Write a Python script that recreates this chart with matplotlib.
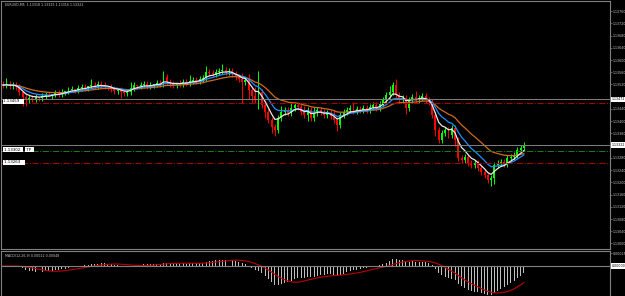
# EURUSD M5 style chart, candles + 3 MAs + MACD pane
import numpy as np
import pandas as pd
import matplotlib
matplotlib.use("Agg")
import matplotlib.pyplot as plt

# closes
closes = [
    1.13518, 1.13521, 1.13515, 1.13518, 1.13512,
    1.13495, 1.13479, 1.13469, 1.13476,
    1.13472, 1.13479, 1.13476, 1.13482, 1.13485, 1.13482,
    1.13489, 1.13492, 1.13489, 1.13495, 1.13498, 1.13502,
    1.13505, 1.13502, 1.13508, 1.13512, 1.13508, 1.13515, 1.13518, 1.13515, 1.13521, 1.13518,
    1.13515, 1.13512, 1.13505, 1.13498, 1.13502, 1.13495, 1.13492,
    1.13495, 1.13508, 1.13518,
    1.13515, 1.13518, 1.13521, 1.13515, 1.13518, 1.13521, 1.13525, 1.13521,
    1.13544, 1.13528,
    1.13521, 1.13518, 1.13525, 1.13521, 1.13528, 1.13525,
    1.13531, 1.13534, 1.13531, 1.13538,
    1.13541, 1.13561, 1.13557,
    1.13554, 1.13561, 1.13564, 1.13567, 1.13561,
    1.13564, 1.13554, 1.13544,
    1.13538, 1.13528, 1.13534, 1.13502,
    1.13482, 1.13469, 1.13495,
    1.13453, 1.13430, 1.13404, 1.13381, 1.13371,
    1.13410, 1.13430, 1.13436,
    1.13426, 1.13443, 1.13453, 1.13446,
    1.13430, 1.13420, 1.13436, 1.13410, 1.13426, 1.13436, 1.13430,
    1.13420, 1.13426, 1.13417, 1.13404, 1.13387, 1.13420,
    1.13430, 1.13436, 1.13443, 1.13433, 1.13440, 1.13436,
    1.13443, 1.13436, 1.13446, 1.13453, 1.13443, 1.13456,
    1.13469, 1.13485, 1.13495, 1.13518,
    1.13485, 1.13469, 1.13476, 1.13443, 1.13469,
    1.13479, 1.13469, 1.13476, 1.13482, 1.13469, 1.13462,
    1.13420, 1.13371, 1.13338, 1.13361,
    1.13371, 1.13355, 1.13377, 1.13338,
    1.13279, 1.13273, 1.13283, 1.13263, 1.13256,
    1.13263, 1.13247, 1.13234,
    1.13224, 1.13207, 1.13214,
    1.13256,
    1.13263, 1.13266, 1.13260,
    1.13279, 1.13283, 1.13289,
    1.13306, 1.13312, 1.13322,
]
first_open = 1.13521

# wick lengths in pips above / below the body
upper_wick = [
    1, 2, 1, 1, 1, 1, 0, 1, 1, 1,
    1, 0, 1, 1, 1, 0, 1, 1, 1, 0,
    1, 1, 0, 1, 1, 1, 0, 2, 1, 1,
    1, 1, 0, 1, 1, 0, 1, 1, 1, 2,
    1, 0, 1, 1, 1, 1, 0, 1, 1, 2,
    1, 1, 1, 0, 1, 1, 1, 2, 1, 1,
    1, 1, 2, 1, 1, 1, 1, 2, 1, 1,
    1, 1, 1, 2, 1, 2, 1, 3, 7, 1,
    1, 1, 1, 1, 1, 2, 1, 1, 2, 1,
    1, 1, 2, 1, 1, 2, 1, 1, 1, 1,
    1, 2, 1, 1, 1, 1, 1, 2, 1, 1,
    1, 1, 1, 1, 1, 1, 1, 1, 2, 1,
    2, 1, 1, 1, 1, 1, 2, 1, 1, 1,
    1, 1, 1, 1, 1, 1, 1, 1, 1, 1,
    1, 1, 1, 1, 1, 1, 1, 1, 1, 1,
    1, 1, 1, 1, 1, 1, 1, 1, 1, 1,
]
lower_wick = [
    1, 1, 1, 1, 1, 1, 3, 2, 1, 1,
    1, 1, 1, 1, 0, 1, 1, 1, 1, 1,
    1, 0, 1, 1, 1, 1, 1, 1, 1, 1,
    1, 1, 1, 1, 1, 1, 2, 1, 1, 1,
    1, 1, 1, 1, 1, 1, 1, 1, 1, 1,
    1, 1, 1, 1, 1, 1, 1, 1, 1, 1,
    1, 1, 1, 1, 1, 1, 1, 1, 1, 1,
    1, 1, 1, 7, 1, 3, 2, 1, 3, 1,
    2, 1, 2, 2, 1, 1, 1, 1, 1, 1,
    1, 1, 1, 2, 1, 1, 1, 1, 1, 1,
    1, 1, 2, 1, 1, 1, 1, 1, 1, 1,
    1, 1, 1, 1, 1, 1, 1, 1, 1, 1,
    1, 1, 1, 2, 1, 1, 1, 1, 1, 1,
    1, 1, 2, 1, 1, 1, 1, 1, 2, 1,
    1, 1, 1, 1, 1, 1, 1, 1, 1, 2,
    2, 1, 1, 1, 1, 1, 1, 1, 1, 1,
]

# horizontal levels (price, colour, style)
levels = [
    (1.13472, "#808080", "-"),
    (1.13459, "#b00000", "-."),
    (1.13322, "#808080", "-"),
    (1.13302, "#1f7a1f", "-."),
    (1.13263, "#b00000", "-."),
]
boxed_prices = [1.13472, 1.13322]
header = "EURUSD,M5  1.13318 1.13325 1.13316 1.13322"
macd_title = "MACD(12,26,9) 0.00022 0.00048"

c = np.array(closes)
o = np.concatenate([[first_open], c[:-1]])
pip = 0.0001
hi = np.maximum(o, c) + np.array(upper_wick) * pip
lo = np.minimum(o, c) - np.array(lower_wick) * pip
n = len(c)
x = np.arange(n)

s = pd.Series(c)
ma_fast = s.ewm(span=5, adjust=False).mean()
ma_mid = s.ewm(span=10, adjust=False).mean()
ma_slow = s.ewm(span=21, adjust=False).mean()
macd = s.ewm(span=12, adjust=False).mean() - s.ewm(span=26, adjust=False).mean()
signal = macd.rolling(9, min_periods=1).mean()

W, H = 625, 296
def rect(x0, y0, x1, y1):
    return [x0 / W, 1 - y1 / H, (x1 - x0) / W, (y1 - y0) / H]

fig = plt.figure(figsize=(6.25, 2.96), dpi=100, facecolor="black")
ax = fig.add_axes(rect(1, 1, 610, 249))
mx = fig.add_axes(rect(1, 251, 610, 296))
grey = "#808080"
txt = "#c8c8c8"
fs = 2.3

for a in (ax, mx):
    a.set_facecolor("black")
    a.set_xlim(-0.6, 185.3)
    a.set_xticks([])
    for sp in a.spines.values():
        sp.set_color(grey)
        sp.set_linewidth(0.8)
    a.yaxis.tick_right()
    a.tick_params(axis="y", colors=grey, labelcolor=txt, labelsize=fs,
                  length=1.2, width=0.5, pad=0.8)
mx.spines["bottom"].set_visible(False)

# candles
up = c >= o
cols = np.where(up, "#00ff00", "#ff0000")
ax.vlines(x, lo, hi, colors=cols, linewidth=0.7)
ax.bar(x, np.abs(c - o) + 0.00001, bottom=np.minimum(o, c), width=0.6,
       color=cols, linewidth=0)

ax.plot(x, ma_slow, color="#d2691e", lw=0.9)
ax.plot(x, ma_mid, color="#1e90ff", lw=0.9)
ax.plot(x, ma_fast, color="#e8e8e8", lw=0.9)

for price, col, ls in levels:
    ax.axhline(price, color=col, ls=ls, lw=0.7)

ax.set_ylim(1.12982, 1.13793)
ticks = np.arange(1.13000, 1.13780, 0.0004)
# price boxes hide the scale labels they sit on
ticks = [t for t in ticks if min(abs(t - b) for b in boxed_prices) > 0.00015]
ax.set_yticks(ticks)
ax.set_yticklabels(["%.5f" % t for t in ticks])

tr = ax.get_yaxis_transform()
box = dict(fc="white", ec="none", pad=0.4)
for price in boxed_prices:
    ax.text(1.003, price, "%.5f" % price, transform=tr, fontsize=fs,
            color="black", va="center", ha="left", bbox=box, clip_on=False,
            zorder=5)
# object labels on the left
ax.text(0.004, 1.13465, "1.13459   ", transform=tr, fontsize=fs + 0.6,
        color="black", va="center", ha="left", bbox=box)
ax.text(0.005, 1.13307, "1.13302  ", transform=tr, fontsize=fs + 0.6,
        color="black", va="center", ha="left", bbox=box)
ax.text(0.040, 1.13307, " TP  ", transform=tr, fontsize=fs + 0.6,
        color="black", va="center", ha="left", bbox=box)
ax.text(0.005, 1.13266, "1.13263   ", transform=tr, fontsize=fs + 0.6,
        color="black", va="center", ha="left", bbox=box)

fig.text(5 / W, 1 - 5 / H, header, fontsize=fs, color=txt, va="center")

# MACD pane
mx.bar(x, macd, width=0.3, color="#bfbfbf", linewidth=0)
mx.plot(x, signal, color="#c00000", lw=0.8)
mx.axhline(0, color=grey, lw=0.8)
mn = macd.min() * 1.03
mx.set_ylim(mn, -mn * 15 / 30)
mtop = -mn * 15 / 30 * 0.85
mx.set_yticks([mtop])
mx.set_yticklabels(["%.5f" % mtop])
mx.text(1.003, 0, "0.00000", transform=mx.get_yaxis_transform(), fontsize=fs,
        color="black", va="center", ha="left", bbox=box, clip_on=False,
        zorder=5)
mx.text(0.006, 0.93, macd_title, transform=mx.transAxes, fontsize=fs,
        color=txt, va="top", ha="left")

fig.savefig("out.png", dpi=100, facecolor="black")
